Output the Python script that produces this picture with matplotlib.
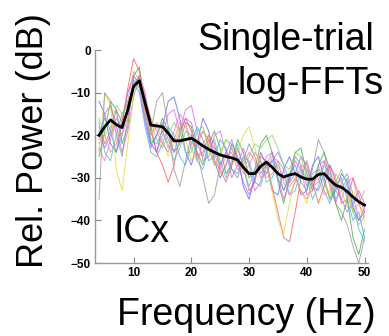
import matplotlib
matplotlib.use('Agg')
import matplotlib.pyplot as plt

plt.rcParams['font.family'] = ['Liberation Sans', 'DejaVu Sans']

#Frecuencias (Hz), 4..50
freqs = list(range(4, 51))

#Promedio (linea negra)
media = [-20, -18, -16.4, -17.5, -18.2, -14, -8.5, -7.2, -12.5, -17.6,
         -17.8, -18, -19.5, -21.3, -21.3, -21, -20.7, -21.5, -22.5, -23.3,
         -24, -24.6, -25, -25.3, -25.8, -27.5, -29, -29, -27.3, -26.3,
         -27.5, -29, -29.8, -29.3, -29, -29.8, -30.3, -30.3, -29.2, -29,
         -30.5, -31.7, -32.2, -33.2, -34.5, -35.6, -36.4]

#Ensayos individuales
ensayo_azul = [-12, -15, -22, -24, -17, -10, -6, -8, -16, -22,
               -24, -18, -12, -11, -16, -24, -27, -22, -16, -19,
               -26, -30, -27, -22, -25, -32, -35, -30, -24, -27,
               -33, -34, -28, -25, -29, -34, -33, -27, -25, -30,
               -35, -33, -29, -31, -37, -40, -38]
ensayo_verde = [-25, -19, -12, -14, -22, -18, -6, -4, -13, -22,
                -20, -16, -19, -24, -22, -17, -18, -24, -27, -22,
                -19, -23, -29, -27, -21, -24, -30, -28, -22, -20,
                -24, -31, -36, -30, -24, -23, -29, -33, -27, -24,
                -28, -36, -40, -35, -44, -48, -42]
ensayo_rojo = [-18, -22, -19, -14, -17, -9, -2, -5, -12, -19,
               -24, -27, -31, -27, -20, -16, -19, -25, -24, -20,
               -22, -28, -31, -27, -23, -27, -33, -31, -25, -26,
               -32, -38, -44, -45, -38, -30, -26, -31, -36, -32,
               -27, -30, -36, -35, -30, -34, -38]
ensayo_cian = [-17, -24, -26, -20, -15, -12, -9, -7, -14, -21,
               -22, -19, -22, -26, -23, -19, -20, -26, -28, -23,
               -21, -26, -30, -26, -22, -28, -32, -28, -26, -31,
               -30, -26, -28, -34, -33, -28, -30, -35, -32, -27,
               -29, -35, -33, -30, -36, -42, -45]
ensayo_magenta = [-21, -15, -13, -18, -24, -19, -11, -6, -10, -18,
                  -24, -20, -15, -14, -19, -14, -13, -19, -26, -25,
                  -20, -19, -24, -30, -27, -23, -27, -33, -31, -25,
                  -24, -30, -35, -31, -26, -28, -34, -33, -27, -26,
                  -32, -36, -31, -29, -34, -40, -37]
ensayo_amarillo = [-24, -10, -13, -28, -33, -22, -10, -8, -15, -20,
                   -18, -21, -25, -22, -18, -21, -26, -23, -19, -22,
                   -27, -25, -21, -22, -24, -20, -18, -23, -28, -27,
                   -33, -40, -43, -36, -30, -33, -36, -31, -28, -31,
                   -34, -30, -33, -37, -33, -36, -40]
ensayo_gris = [-35, -10, -12, -20, -25, -16, -8, -6, -14, -19,
               -12, -10, -18, -28, -32, -26, -20, -24, -30, -36,
               -34, -27, -24, -28, -30, -26, -22, -25, -29, -27,
               -24, -28, -33, -30, -25, -27, -32, -28, -21, -24,
               -31, -36, -38, -41, -46, -50, -44]
ensayo_violeta = [-19, -23, -20, -16, -18, -14, -7, -9, -17, -23,
                  -20, -17, -21, -24, -19, -16, -17, -22, -25, -21,
                  -23, -27, -24, -21, -26, -31, -34, -30, -27, -29,
                  -26, -24, -27, -31, -29, -25, -27, -32, -33, -29,
                  -27, -31, -35, -38, -36, -33, -36]
ensayo_naranja = [-22, -20, -24, -22, -16, -12, -5, -7, -15, -20,
                  -17, -19, -23, -21, -17, -18, -23, -26, -22, -20,
                  -24, -29, -27, -23, -26, -29, -27, -24, -26, -30,
                  -29, -27, -30, -32, -30, -33, -35, -31, -30, -34,
                  -33, -29, -31, -34, -38, -36, -33]
ensayo_lima = [-16, -20, -18, -13, -15, -13, -9, -6, -11, -17,
               -21, -23, -20, -17, -19, -24, -24, -19, -18, -23,
               -27, -24, -21, -23, -27, -28, -25, -22, -23, -21,
               -20, -23, -27, -28, -24, -25, -30, -31, -27, -31,
               -35, -31, -28, -32, -38, -41, -39]
ensayo_azulverde = [-20, -16, -19, -24, -20, -13, -8, -10, -18, -24,
                    -25, -22, -18, -20, -25, -27, -22, -18, -21, -26,
                    -25, -21, -23, -28, -29, -25, -26, -31, -32, -27,
                    -26, -30, -33, -29, -27, -31, -33, -29, -28, -33,
                    -36, -32, -30, -35, -40, -38, -44]
ensayo_rosa = [-23, -26, -21, -17, -20, -16, -9, -6, -11, -16,
               -19, -22, -24, -19, -15, -17, -22, -22, -19, -21,
               -26, -28, -25, -24, -28, -27, -24, -26, -30, -29,
               -25, -26, -31, -34, -31, -27, -28, -32, -31, -26,
               -28, -33, -35, -31, -30, -36, -39]

ensayos = [ensayo_azul, ensayo_verde, ensayo_rojo, ensayo_cian, ensayo_magenta,
           ensayo_amarillo, ensayo_gris, ensayo_violeta, ensayo_naranja,
           ensayo_lima, ensayo_azulverde, ensayo_rosa]
colores = ['#5a5aff', '#3aa83a', '#ff5050', '#30c8d8', '#e060e0',
           '#d8d830', '#909090', '#9a70ff', '#ff8a6a',
           '#80d060', '#50a0e0', '#ff70b0']

fig = plt.figure(figsize=(3.89, 3.36), dpi=100)
ax = fig.add_axes([0.244, 0.217, 0.702, 0.634])

for valores, c in zip(ensayos, colores):
    ax.plot(freqs, valores, color=c, lw=0.7, alpha=0.75)
ax.plot(freqs, media, color='black', lw=2.0)

ax.set_xlim(3.3, 50.6)
ax.set_ylim(-50, 0)
ax.set_xticks([10, 20, 30, 40, 50])
ax.set_yticks([0, -10, -20, -30, -40, -50])
ax.tick_params(direction='in', length=4, width=0.8, color='#888888',
               labelsize=8.5, pad=3)
for lab in ax.get_xticklabels() + ax.get_yticklabels():
    lab.set_fontweight('bold')
for s in ['top', 'right']:
    ax.spines[s].set_visible(False)
for s in ['left', 'bottom']:
    ax.spines[s].set_color('#999999')
    ax.spines[s].set_linewidth(1.0)

ax.set_xlabel('Frequency (Hz)', fontsize=27)
ax.xaxis.set_label_coords(0.554, -0.16)
ax.set_ylabel('Rel. Power (dB)', fontsize=26)
ax.yaxis.set_label_coords(-0.16, 0.577)

ax.text(6.5, -45, 'ICx', fontsize=27, ha='left', va='baseline')
fig.text(0.962, 0.851, 'Single-trial', fontsize=27, ha='right', va='baseline')
fig.text(0.985, 0.72, 'log-FFTs', fontsize=27, ha='right', va='baseline')

fig.savefig('out.png', dpi=100)
